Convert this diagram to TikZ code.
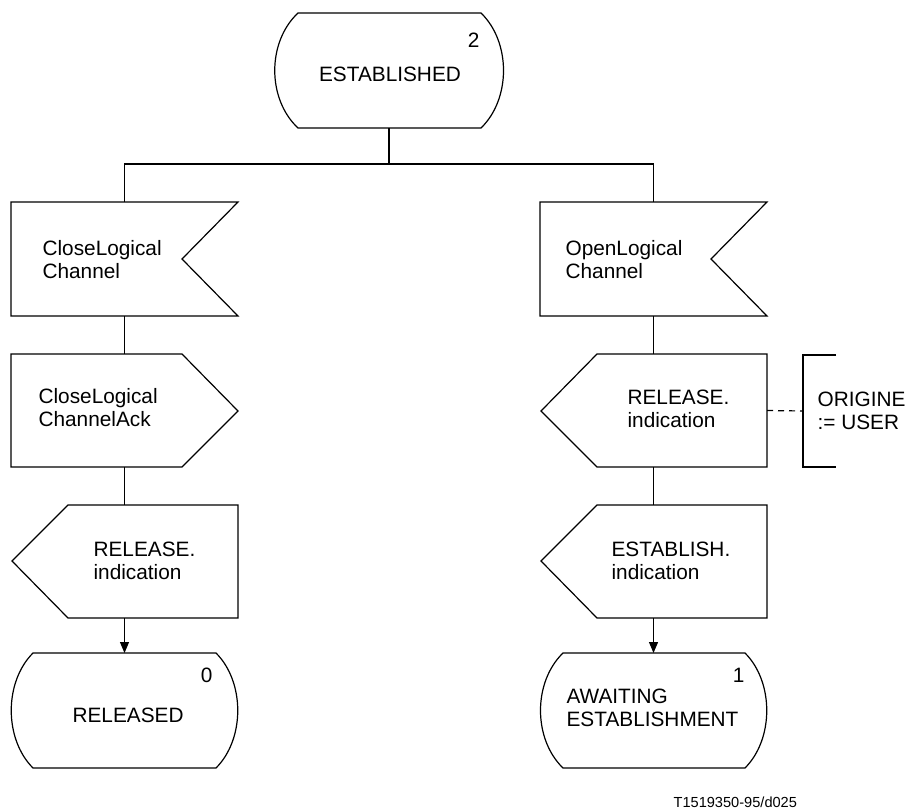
\documentclass[tikz,border=0pt]{standalone}
\usepackage{fontspec}
\setmainfont{Liberation Sans}
\usetikzlibrary{arrows.meta}
\newcommand\twol[2]{\vtop{\hbox{#1}\hbox{#2}}}
\begin{document}
\begin{tikzpicture}[x=1pt,y=-1pt,
  line width=1.2pt,
  frame/.style={draw=none,inner sep=0pt,outer sep=0pt},
  lbl/.style={inner sep=0pt,anchor=base west,font=\fontsize{20.8}{23.5}\selectfont},
  num/.style={inner sep=0pt,anchor=base east,font=\fontsize{20.8}{23.5}\selectfont},
  shp/.style={draw=black,line width=1.2pt,line join=miter},
  arr/.style={-{Triangle[length=11pt,width=9pt]}},
  dsh/.style={dash pattern=on 6pt off 5pt}]
\useasboundingbox (0,0) rectangle (908,809);
\fill[white] (0,0) rectangle (908,809);

% ---------- frames (named nodes) ----------
\node[frame,minimum width=228,minimum height=115] (est) at (389,70.5) {};
\node[frame,minimum width=227,minimum height=114] (cl) at (124.5,259) {};
\node[frame,minimum width=227,minimum height=113] (cla) at (124.5,410.5) {};
\node[frame,minimum width=227,minimum height=113] (rel1) at (124.5,561.5) {};
\node[frame,minimum width=227,minimum height=115] (released) at (124.5,710.5) {};
\node[frame,minimum width=227,minimum height=114] (ol) at (653.5,259) {};
\node[frame,minimum width=227,minimum height=113] (rel2) at (653.5,410.5) {};
\node[frame,minimum width=227,minimum height=113] (esti) at (653.5,561.5) {};
\node[frame,minimum width=227,minimum height=115] (await) at (653.5,710.5) {};
\node[frame,minimum width=33,minimum height=112] (orig) at (819.5,411) {};
\coordinate (fork) at (389,164);

% ---------- shapes ----------
% ESTABLISHED state
\draw[shp] (298,13) -- (481,13) .. controls (511,42) and (511,99) .. (481,128)
  -- (298,128) .. controls (267,99) and (267,42) .. (298,13) -- cycle;
% CloseLogical Channel (input)
\draw[shp] (11,202) -- (238,202) -- (182,259) -- (238,316) -- (11,316) -- cycle;
% CloseLogicalChannelAck (output)
\draw[shp] (11,354) -- (182,354) -- (238,411) -- (182,467) -- (11,467) -- cycle;
% RELEASE.indication left
\draw[shp] (68,505) -- (238,505) -- (238,618) -- (68,618) -- (12,561) -- cycle;
% RELEASED state
\draw[shp] (33,653) -- (216,653) .. controls (245,682) and (245,739) .. (216,768)
  -- (33,768) .. controls (4,739) and (4,682) .. (33,653) -- cycle;
% OpenLogical Channel (input)
\draw[shp] (540,202) -- (767,202) -- (711,259) -- (767,316) -- (540,316) -- cycle;
% RELEASE.indication right
\draw[shp] (597,354) -- (767,354) -- (767,467) -- (597,467) -- (541,411) -- cycle;
% ESTABLISH.indication
\draw[shp] (597,505) -- (767,505) -- (767,618) -- (597,618) -- (541,561) -- cycle;
% AWAITING ESTABLISHMENT state
\draw[shp] (563,653) -- (745,653) .. controls (774,682) and (774,739) .. (745,768)
  -- (563,768) .. controls (533,739) and (533,682) .. (563,653) -- cycle;
% ORIGINE bracket
\draw[shp] (orig.north east) -- (orig.north west) -- (orig.south west) -- (orig.south east);

% ---------- connectors ----------
\draw (est.south) -- (fork) -| (cl.north);
\draw (fork) -| (ol.north);
\draw (cl.south) -- (cla.north);
\draw (cla.south) -- (rel1.north);
\draw[arr] (rel1.south) -- (released.north);
\draw (ol.south) -- (rel2.north);
\draw (rel2.south) -- (esti.north);
\draw[arr] (esti.south) -- (await.north);
\draw[dsh] (rel2.east) -- (orig.west);

% ---------- texts ----------
\node[lbl,anchor=base] (estT) at (390,81) {ESTABLISHED};
\node[num] (estN) at (480,47) {2};
\node[lbl] (clT) at (42,255) {\twol{CloseLogical}{Channel}};
\node[lbl] (claT) at (38,403) {\twol{CloseLogical}{ChannelAck}};
\node[lbl] (rel1T) at (93,556) {\twol{RELEASE.}{indication}};
\node[lbl] (relT) at (72,722) {RELEASED};
\node[num] (relN) at (213,682) {0};
\node[lbl] (olT) at (565,255) {\twol{OpenLogical}{Channel}};
\node[lbl] (rel2T) at (627,404) {\twol{RELEASE.}{indication}};
\node[lbl] (estiT) at (611,556) {\twol{ESTABLISH.}{indication}};
\node[lbl] (origT) at (817,406) {\twol{ORIGINE}{:= USER}};
\node[lbl] (awT) at (566,703) {\twol{AWAITING}{ESTABLISHMENT}};
\node[num] (awN) at (745,682) {1};
\node[inner sep=0pt,anchor=base west,font=\fontsize{14.6}{16}\selectfont] (foot) at (673,807) {T1519350-95/d025};
\end{tikzpicture}
\end{document}
